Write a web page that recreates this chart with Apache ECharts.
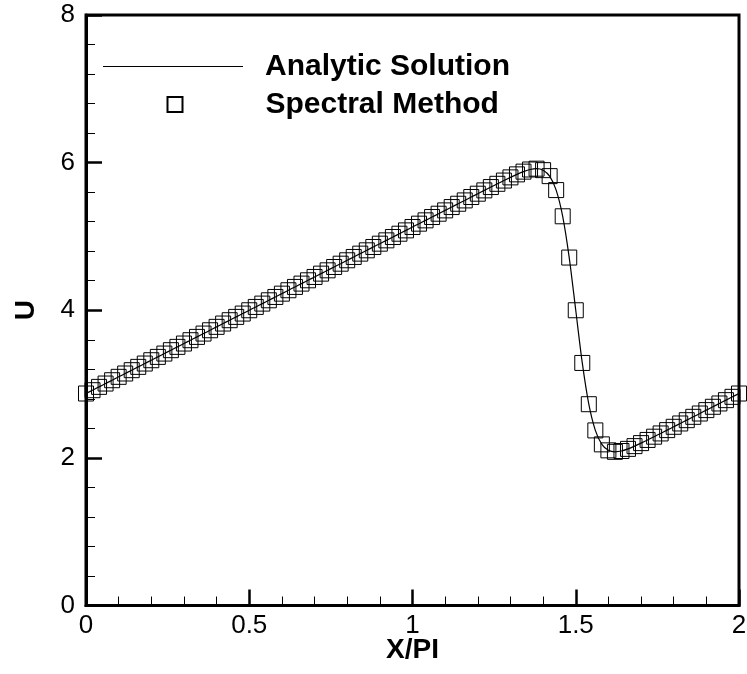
<!DOCTYPE html>
<html>
<head>
<meta charset="utf-8">
<script src="https://cdn.jsdelivr.net/npm/echarts@6/dist/echarts.min.js"></script>
<style>
html,body{margin:0;padding:0;background:#fff;}
#chart{width:747px;height:674px;}
</style>
</head>
<body>
<div id="chart"></div>
<script>
// X/PI positions of the samples
var xValues = [
  0.00,0.02,0.04,0.06,0.08,0.10,0.12,0.14,0.16,0.18,
  0.20,0.22,0.24,0.26,0.28,0.30,0.32,0.34,0.36,0.38,
  0.40,0.42,0.44,0.46,0.48,0.50,0.52,0.54,0.56,0.58,
  0.60,0.62,0.64,0.66,0.68,0.70,0.72,0.74,0.76,0.78,
  0.80,0.82,0.84,0.86,0.88,0.90,0.92,0.94,0.96,0.98,
  1.00,1.02,1.04,1.06,1.08,1.10,1.12,1.14,1.16,1.18,
  1.20,1.22,1.24,1.26,1.28,1.30,1.32,1.34,1.36,1.38,
  1.40,1.42,1.44,1.46,1.48,1.50,1.52,1.54,1.56,1.58,
  1.60,1.62,1.64,1.66,1.68,1.70,1.72,1.74,1.76,1.78,
  1.80,1.82,1.84,1.86,1.88,1.90,1.92,1.94,1.96,1.98,
  2.00
];
// Analytic solution U
var analyticU = [
  2.872,2.917,2.962,3.007,3.052,3.098,3.143,3.188,3.233,3.278,
  3.323,3.368,3.413,3.459,3.504,3.549,3.594,3.639,3.684,3.729,
  3.775,3.820,3.865,3.910,3.955,4.000,4.045,4.090,4.135,4.180,
  4.225,4.271,4.316,4.361,4.406,4.451,4.496,4.541,4.586,4.631,
  4.677,4.722,4.767,4.812,4.857,4.902,4.947,4.992,5.037,5.082,
  5.128,5.173,5.218,5.263,5.308,5.353,5.398,5.443,5.488,5.534,
  5.579,5.624,5.669,5.713,5.757,5.800,5.841,5.878,5.907,5.918,
  5.898,5.817,5.628,5.273,4.714,4.000,3.286,2.727,2.372,2.183,
  2.102,2.082,2.093,2.122,2.159,2.200,2.243,2.287,2.331,2.376,
  2.421,2.466,2.511,2.556,2.601,2.647,2.692,2.737,2.782,2.827,
  2.872
];
// Spectral method U
var spectralU = [
  2.872,2.917,2.962,3.007,3.052,3.098,3.143,3.188,3.233,3.278,
  3.323,3.368,3.413,3.459,3.504,3.549,3.594,3.639,3.684,3.729,
  3.775,3.820,3.865,3.910,3.955,4.000,4.045,4.090,4.135,4.180,
  4.225,4.271,4.316,4.361,4.406,4.451,4.496,4.541,4.586,4.631,
  4.677,4.722,4.767,4.812,4.857,4.902,4.947,4.992,5.037,5.082,
  5.128,5.173,5.218,5.263,5.308,5.353,5.398,5.443,5.488,5.534,
  5.579,5.624,5.669,5.713,5.757,5.800,5.841,5.878,5.907,5.918,
  5.898,5.817,5.628,5.273,4.714,4.000,3.286,2.727,2.372,2.183,
  2.102,2.082,2.093,2.122,2.159,2.200,2.243,2.287,2.331,2.376,
  2.421,2.466,2.511,2.556,2.601,2.647,2.692,2.737,2.782,2.827,
  2.872
];
var seriesNames = ['Analytic Solution', 'Spectral Method'];
var xTitle = 'X/PI';
var yTitle = 'U';

function pairs(xs, ys) {
  var out = [];
  for (var i = 0; i < xs.length; i++) out.push([xs[i], ys[i]]);
  return out;
}

var FONT = '"Liberation Sans", Arial, Helvetica, sans-serif';
var chart = echarts.init(document.getElementById('chart'), null, {renderer: 'canvas'});
chart.setOption({
  animation: false,
  backgroundColor: '#fff',
  grid: {
    left: 86, right: 8, top: 15, bottom: 68.5,
    outerBoundsMode: 'none',
    show: true, borderColor: '#000', borderWidth: 3, backgroundColor: 'transparent'
  },
  legend: [
    {
      data: [{name: seriesNames[0], icon: 'rect'}],
      left: 103, top: 51.5, padding: 0,
      itemWidth: 140, itemHeight: 1.2,
      itemStyle: {color: '#000', borderWidth: 0},
      textStyle: {fontFamily: FONT, fontSize: 30, fontWeight: 'bold', color: '#000', padding: [0, 0, 0, 17]}
    },
    {
      data: [seriesNames[1]],
      left: 166.5, top: 89.5, padding: 0,
      itemWidth: 15, itemHeight: 15,
      textStyle: {fontFamily: FONT, fontSize: 30, fontWeight: 'bold', color: '#000', padding: [0, 0, 0, 78]}
    }
  ],
  xAxis: {
    type: 'value', min: 0, max: 2, interval: 0.5,
    name: xTitle, nameLocation: 'middle', nameGap: 31, nameMoveOverlap: false,
    nameTextStyle: {fontFamily: FONT, fontSize: 28, fontWeight: 'bold', color: '#000'},
    axisLine: {show: true, lineStyle: {color: '#000', width: 3}},
    axisTick: {show: true, inside: true, length: 16, lineStyle: {color: '#000', width: 2.5}},
    minorTick: {show: true, splitNumber: 5, length: 9, lineStyle: {color: '#000', width: 1}},
    axisLabel: {fontFamily: FONT, fontSize: 26, color: '#000', margin: 7},
    splitLine: {show: false}
  },
  yAxis: {
    type: 'value', min: 0, max: 8, interval: 2,
    name: yTitle, nameLocation: 'middle', nameGap: 46, nameMoveOverlap: false,
    nameTextStyle: {fontFamily: FONT, fontSize: 28, fontWeight: 'bold', color: '#000'},
    axisLine: {show: true, lineStyle: {color: '#000', width: 3}},
    axisTick: {show: true, inside: true, length: 16, lineStyle: {color: '#000', width: 2.5}},
    minorTick: {show: true, splitNumber: 5, length: 9, lineStyle: {color: '#000', width: 1}},
    axisLabel: {fontFamily: FONT, fontSize: 26, color: '#000', margin: 11},
    splitLine: {show: false}
  },
  series: [
    {
      name: seriesNames[0], type: 'line',
      data: pairs(xValues, analyticU),
      showSymbol: false, symbol: 'none', smooth: 0.3,
      lineStyle: {color: '#000', width: 1.2},
      itemStyle: {color: '#000'},
      z: 3
    },
    {
      name: seriesNames[1], type: 'scatter',
      data: pairs(xValues, spectralU),
      symbol: 'rect', symbolSize: 15,
      itemStyle: {color: 'rgba(0,0,0,0)', borderColor: '#000', borderWidth: 1, opacity: 1},
      z: 2
    }
  ]
});
</script>
</body>
</html>
